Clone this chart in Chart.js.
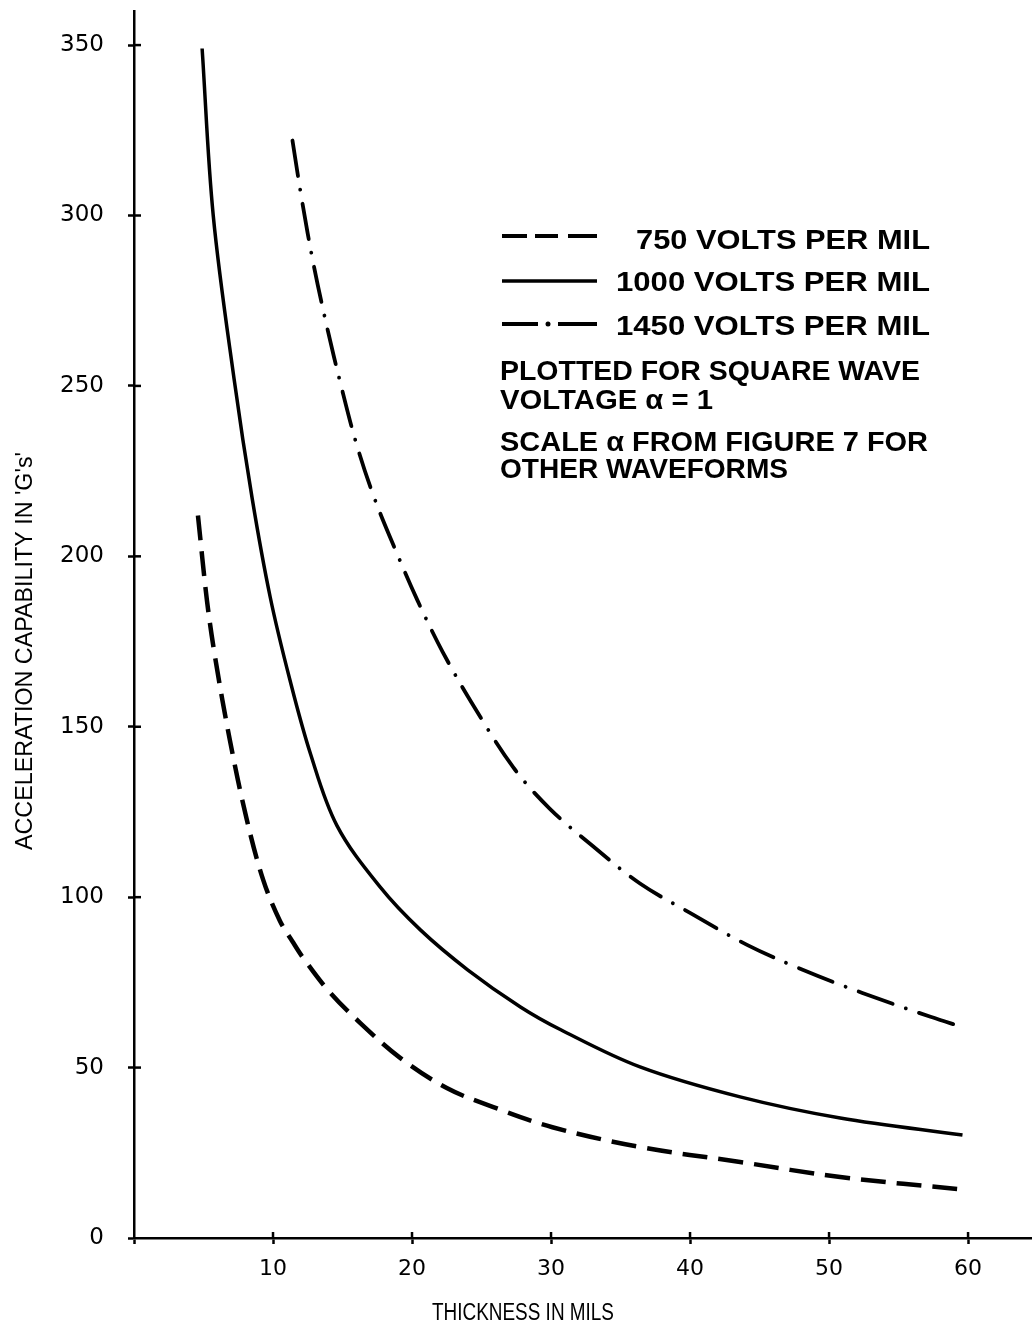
<!DOCTYPE html>
<html lang="en">
<head>
  <meta charset="UTF-8" />
  <title>Acceleration capability vs thickness</title>
  <script src="https://cdn.jsdelivr.net/npm/chart.js"></script>
  <style>
    html, body { margin: 0; padding: 0; background: #fff; }
    #wrap { width: 1032px; height: 1327px; position: relative; }
  </style>
</head>
<body>
<div id="wrap"><canvas id="chart"></canvas></div>
<script>
  // values
  const thick750 = [4.6, 5.25, 5.85, 6.9, 8.1, 9.3, 10.5, 11.4, 12.2, 14.1, 16.3, 19.1, 22.5, 25.8, 30.1, 36.4, 43.6, 50.8, 59.9];
  const accel750 = [212, 187, 170, 146, 123, 105, 93, 87, 82, 72, 63, 53, 44, 38.5, 32.5, 26.7, 22.3, 17.9, 14.1];

  const thick1000 = [4.9, 5.7, 7.2, 8.5, 9.8, 11.2, 12.7, 14.6, 17.7, 20.6, 24.0, 27.8, 30.7, 36.4, 43.6, 50.8, 59.6];
  const accel1000 = [349, 300, 252, 217, 188, 164, 142, 121, 103, 90.4, 78.7, 67.8, 61.1, 50.2, 41.4, 35.2, 30.2];

  const thick1450 = [11.4, 12.1, 12.9, 13.9, 14.9, 16.0, 17.3, 18.9, 20.4, 22.2, 24.3, 27.3, 29.9, 33.0, 36.4, 40.0, 44.1, 48.1, 52.4, 57.3, 59.6];
  const accel1450 = [322, 304, 286, 267, 250, 233, 217, 201, 187, 172, 157, 138, 126, 115, 104, 95.4, 86, 78.7, 71.9, 64.9, 61.9];

  const seriesLabels = ['750 VOLTS PER MIL', '1000 VOLTS PER MIL', '1450 VOLTS PER MIL'];
  const noteLines = ['PLOTTED FOR SQUARE WAVE', 'VOLTAGE \u03B1 = 1', 'SCALE \u03B1 FROM FIGURE 7 FOR', 'OTHER WAVEFORMS'];
  const xTitle = 'THICKNESS IN MILS';
  const yTitle = "ACCELERATION CAPABILITY IN 'G's'";

  const dash750 = [25, 11];
  const dash1450 = [36, 14, 0.01, 14];

  function pts(xs, ys) {
    return xs.map((x, i) => ({ x: x, y: ys[i] }));
  }

  // draw text squeezed/stretched to a given width
  function fitText(ctx, text, x, y, width, font) {
    ctx.save();
    ctx.font = font;
    ctx.textBaseline = 'middle';
    ctx.textAlign = 'left';
    const w = ctx.measureText(text).width;
    ctx.translate(x, y);
    ctx.scale(width / w, 1);
    ctx.fillText(text, 0, 0);
    ctx.restore();
  }

  const extras = {
    id: 'extras',
    afterDraw(chart) {
      const ctx = chart.ctx;
      const area = chart.chartArea;
      const xs = chart.scales.x, ys = chart.scales.y;
      ctx.save();
      ctx.strokeStyle = '#000';
      ctx.fillStyle = '#000';

      // inner half of the cross tick marks
      ctx.lineWidth = 2.5;
      ys.ticks.forEach(t => {
        if (t.value <= 0) return;
        const py = ys.getPixelForValue(t.value);
        ctx.beginPath(); ctx.moveTo(area.left, py); ctx.lineTo(area.left + 7, py); ctx.stroke();
      });
      xs.ticks.forEach(t => {
        if (t.value <= 0) return;
        const px = xs.getPixelForValue(t.value);
        ctx.beginPath(); ctx.moveTo(px, area.bottom); ctx.lineTo(px, area.bottom - 6); ctx.stroke();
      });

      // axis titles
      fitText(ctx, xTitle, 432, 1314, 182, '23px "Liberation Sans"');
      ctx.save();
      ctx.translate(25, 651);
      ctx.rotate(-Math.PI / 2);
      fitText(ctx, yTitle, -199, 0, 398, '24px "Liberation Sans"');
      ctx.restore();

      // legend samples
      ctx.lineWidth = 4;
      ctx.setLineDash([]);
      ctx.lineCap = 'butt';
      [[502, 527], [535, 558], [568, 597]].forEach(s => {
        ctx.beginPath(); ctx.moveTo(s[0], 236); ctx.lineTo(s[1], 236); ctx.stroke();
      });
      ctx.lineWidth = 3.5;
      ctx.beginPath(); ctx.moveTo(502, 281); ctx.lineTo(597, 281); ctx.stroke();
      ctx.lineWidth = 4;
      ctx.beginPath(); ctx.moveTo(502, 324); ctx.lineTo(538, 324); ctx.stroke();
      ctx.beginPath(); ctx.moveTo(558, 324); ctx.lineTo(597, 324); ctx.stroke();
      ctx.beginPath(); ctx.arc(548, 324, 2.5, 0, Math.PI * 2); ctx.fill();

      const bold = 'bold 28px "Liberation Sans"';
      fitText(ctx, seriesLabels[0], 636, 241, 294, bold);
      fitText(ctx, seriesLabels[1], 616, 283, 314, bold);
      fitText(ctx, seriesLabels[2], 616, 327, 314, bold);
      fitText(ctx, noteLines[0], 500, 372, 420, bold);
      fitText(ctx, noteLines[1], 500, 401, 213, bold);
      fitText(ctx, noteLines[2], 500, 443, 428, bold);
      fitText(ctx, noteLines[3], 500, 470, 288, bold);
      ctx.restore();
    }
  };

  new Chart(document.getElementById('chart'), {
    type: 'line',
    data: {
      datasets: [
        {
          label: seriesLabels[0],
          data: pts(thick750, accel750),
          borderColor: '#000',
          borderWidth: 4.5,
          borderDash: dash750,
          pointRadius: 0,
          tension: 0.35,
          fill: false
        },
        {
          label: seriesLabels[1],
          data: pts(thick1000, accel1000),
          borderColor: '#000',
          borderWidth: 3.5,
          pointRadius: 0,
          tension: 0.35,
          fill: false
        },
        {
          label: seriesLabels[2],
          data: pts(thick1450, accel1450),
          borderColor: '#000',
          borderWidth: 3.8,
          borderDash: dash1450,
          borderCapStyle: 'round',
          pointRadius: 0,
          tension: 0.35,
          fill: false
        }
      ]
    },
    options: {
      responsive: true,
      maintainAspectRatio: false,
      animation: false,
      layout: { padding: { top: 11, right: 0, left: 0, bottom: 0 } },
      plugins: { legend: { display: false }, tooltip: { enabled: false } },
      scales: {
        x: {
          type: 'linear',
          min: 0,
          max: 64.6,
          afterFit: s => { s.height = 89; s.paddingLeft = 0; s.paddingRight = 0; },
          border: { color: '#000', width: 2.5 },
          grid: { drawOnChartArea: false, color: '#000', tickLength: 6, tickWidth: 2.5 },
          ticks: {
            stepSize: 10,
            includeBounds: false,
            padding: 12,
            color: '#000',
            font: { family: '"DejaVu Sans"', size: 22 },
            callback: v => v === 0 ? '' : v
          }
        },
        y: {
          type: 'linear',
          min: 0,
          max: 360,
          afterFit: s => { s.width = 134; s.paddingTop = 0; s.paddingBottom = 0; },
          border: { color: '#000', width: 2.5 },
          grid: { drawOnChartArea: false, color: '#000', tickLength: 6, tickWidth: 2.5 },
          ticks: {
            stepSize: 50,
            includeBounds: false,
            padding: 24,
            color: '#000',
            font: { family: '"DejaVu Sans"', size: 23 }
          }
        }
      }
    },
    plugins: [extras]
  });
</script>
</body>
</html>
